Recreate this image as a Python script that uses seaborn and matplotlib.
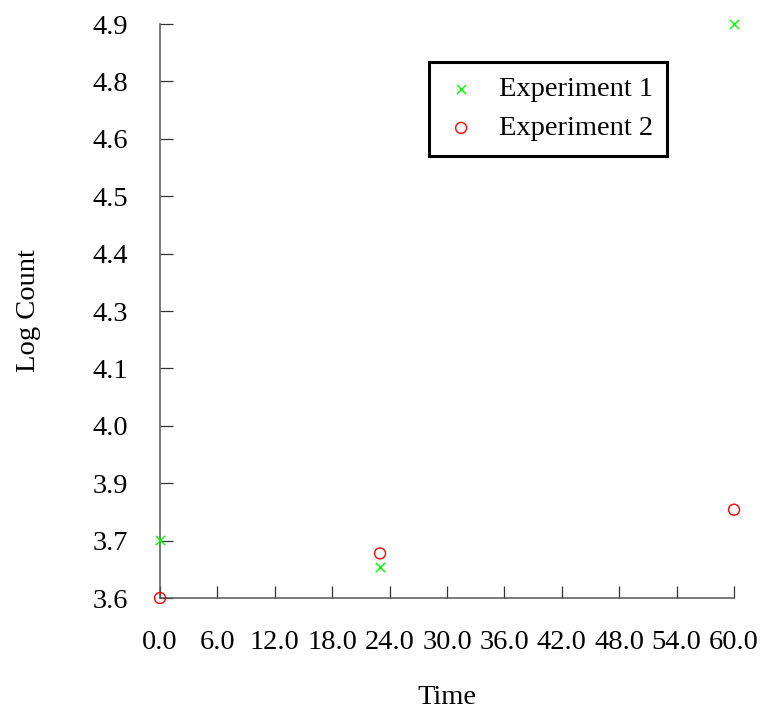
import numpy as np
import pandas as pd
import matplotlib
matplotlib.use('Agg')
import matplotlib.pyplot as plt
import seaborn as sns

# data
time = [0.0, 23.0, 60.0]
exp1 = [3.731, 3.671, 4.90]
exp2 = [3.600, 3.701, 3.800]

x_ticks = [0, 6, 12, 18, 24, 30, 36, 42, 48, 54, 60]
x_labels = ['0.0', '6.0', '12.0', '18.0', '24.0', '30.0', '36.0', '42.0', '48.0', '54.0', '60.0']
y_labels = ['3.6', '3.7', '3.9', '4.0', '4.1', '4.3', '4.4', '4.5', '4.6', '4.8', '4.9']

df1 = pd.DataFrame({'Time': time, 'Log Count': exp1})
df2 = pd.DataFrame({'Time': time, 'Log Count': exp2})

sns.set_style('ticks')
plt.rcParams['font.family'] = ['Liberation Serif', 'DejaVu Serif']
plt.rcParams['text.color'] = 'black'
plt.rcParams['axes.labelcolor'] = 'black'
plt.rcParams['xtick.labelcolor'] = 'black'
plt.rcParams['ytick.labelcolor'] = 'black'
fs = 20.5

fig = plt.figure(figsize=(7.66, 7.16), dpi=100)
ax = fig.add_axes([160 / 766, 1 - 598 / 716, 574 / 766, 574 / 716])

sns.scatterplot(data=df1, x='Time', y='Log Count', ax=ax, marker='x', color='#00ff00',
                s=45, linewidth=1.0, label='Experiment 1', clip_on=False, zorder=3)
sns.scatterplot(data=df2, x='Time', y='Log Count', ax=ax, marker='o', facecolors='none',
                edgecolor='#ff0000', s=62, linewidth=1.0, label='Experiment 2', clip_on=False, zorder=3)

ax.set_xlim(0, 60)
ax.set_ylim(3.6, 4.9)
ax.set_xticks(x_ticks)
ax.set_xticklabels(x_labels)
ax.set_yticks(np.linspace(3.6, 4.9, len(y_labels)))
ax.set_yticklabels(y_labels)
ax.tick_params(direction='in', length=9, width=0.9, color='#333333', labelsize=fs)
ax.tick_params(axis='x', pad=23)
ax.tick_params(axis='y', pad=23)

sns.despine(ax=ax)
for s in ['left', 'bottom']:
    ax.spines[s].set_color('#555555')
    ax.spines[s].set_linewidth(1.1)

ax.set_xlabel('Time', fontsize=fs, labelpad=22)
ax.set_ylabel('Log Count', fontsize=fs, labelpad=37)

leg = ax.legend(loc='upper left', bbox_to_anchor=(0.4686, 0.934), borderaxespad=0,
                fontsize=fs, fancybox=False, framealpha=1, edgecolor='black',
                borderpad=0.5, handlelength=1.26, handletextpad=0.7, labelspacing=0.47)
leg.get_frame().set_linewidth(2.2)

fig.savefig('out.png', dpi=100)
